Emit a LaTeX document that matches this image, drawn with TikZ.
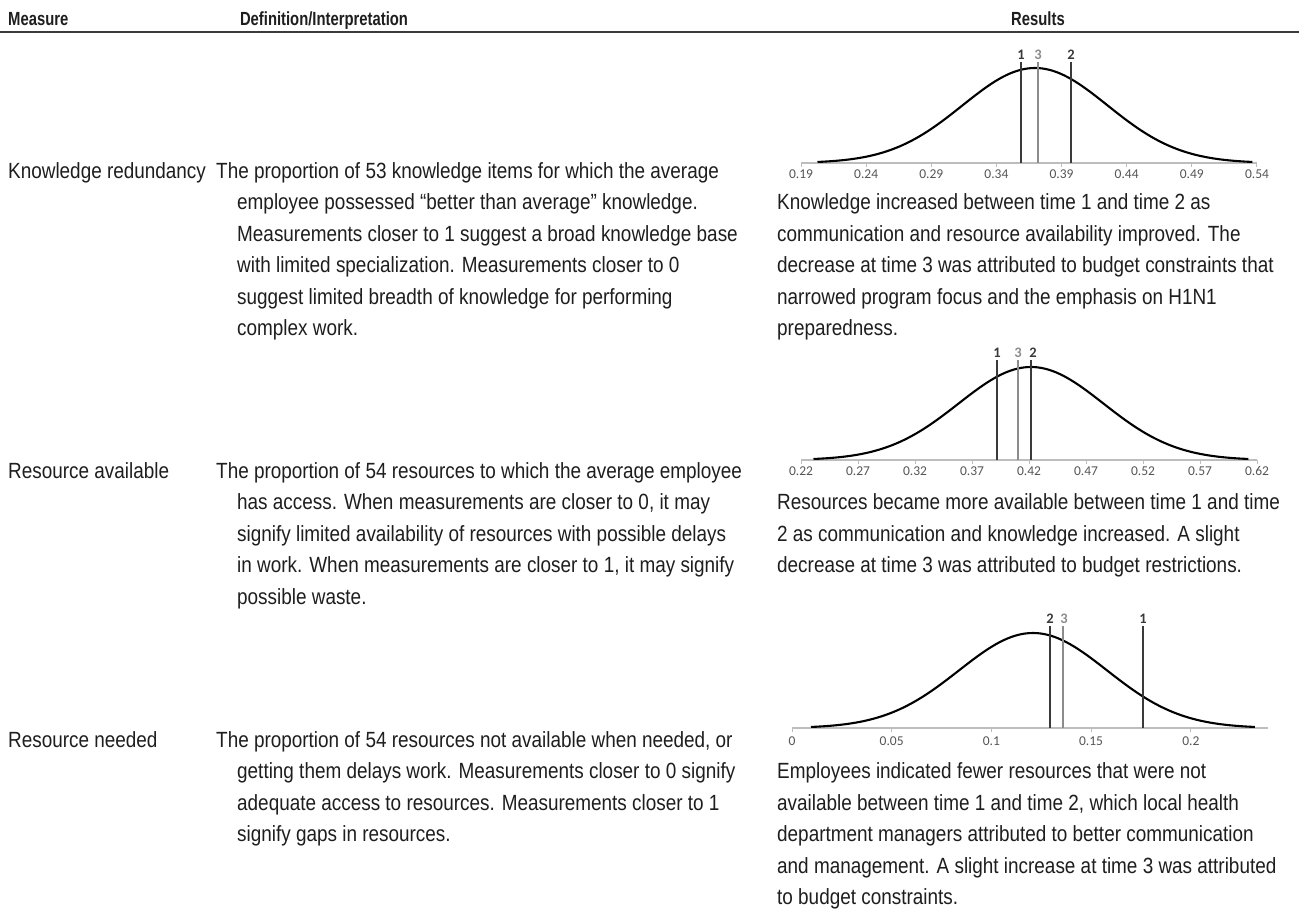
\documentclass[tikz,border=0pt]{standalone}
\usepackage{fontspec}
\setmainfont[FakeStretch=0.86]{Liberation Sans}
\newfontfamily\hdrfont[FakeStretch=0.78]{Liberation Sans}
\newfontfamily\axisfont{Carlito}
\definecolor{textc}{HTML}{1E1E1E}
\definecolor{axc}{HTML}{555555}
\definecolor{axl}{HTML}{BDBDBD}
\definecolor{vdark}{HTML}{3A3A3A}
\definecolor{vlight}{HTML}{8C8C8C}
\tikzset{
  txt/.style={font=\fontsize{22}{26}\selectfont, inner sep=0pt, text=textc, anchor=base west},
  hdr/.style={font=\hdrfont\fontsize{19}{22}\selectfont\bfseries, inner sep=0pt, text=textc, anchor=base},
  axlab/.style={font=\axisfont\fontsize{13.5}{16}\selectfont, inner sep=0pt, text=axc, anchor=base},
  numlab/.style={font=\axisfont\bfseries\fontsize{14.5}{16}\selectfont, inner sep=0pt, anchor=base},
  curve/.style={draw=black, line width=2.1pt},
  axisline/.style={draw=axl, line width=1.2pt},
  tick/.style={draw=axl, line width=1pt},
  vline/.style={draw=vdark, line width=2pt},
  vlinelight/.style={draw=vlight, line width=1.8pt},
  rule/.style={draw=vdark, line width=2pt}
}
\begin{document}
\begin{tikzpicture}[x=1pt,y=-1pt]
\useasboundingbox[fill=white] (0,0) rectangle (1299,914);

% header
\node[hdr, anchor=base west] (hM) at (8,25) {Measure};
\node[hdr] (hD) at (324,25) {Definition/Interpretation};
\node[hdr] (hR) at (1038,25) {Results};
\coordinate (rl) at (0,32);
\coordinate (rr) at (1299,32);
\draw[rule] (rl) -- (rr);

% ---------- left column ----------
\node[txt] (m1) at (8,178) {Knowledge redundancy};
\node[txt] (d1a) at (216,178) {The proportion of 53 knowledge items for which the average};
\node[txt] (d1b) at (237,209.5) {employee possessed “better than average” knowledge.};
\node[txt] (d1c) at (237,241) {Measurements closer to 1 suggest a broad knowledge base};
\node[txt] (d1d) at (237,272.5) {with limited specialization. Measurements closer to 0};
\node[txt] (d1e) at (237,304) {suggest limited breadth of knowledge for performing};
\node[txt] (d1f) at (237,335.5) {complex work.};

\node[txt] (m2) at (8,478) {Resource available};
\node[txt] (d2a) at (216,478) {The proportion of 54 resources to which the average employee};
\node[txt] (d2b) at (237,509.5) {has access. When measurements are closer to 0, it may};
\node[txt] (d2c) at (237,541) {signify limited availability of resources with possible delays};
\node[txt] (d2d) at (237,572.5) {in work. When measurements are closer to 1, it may signify};
\node[txt] (d2e) at (237,604) {possible waste.};

\node[txt] (m3) at (8,747) {Resource needed};
\node[txt] (d3a) at (216,747) {The proportion of 54 resources not available when needed, or};
\node[txt] (d3b) at (237,778.5) {getting them delays work. Measurements closer to 0 signify};
\node[txt] (d3c) at (237,810) {adequate access to resources. Measurements closer to 1};
\node[txt] (d3d) at (237,841.5) {signify gaps in resources.};

% ---------- right column text ----------
\node[txt] (r1a) at (777,209.5) {Knowledge increased between time 1 and time 2 as};
\node[txt] (r1b) at (777,241) {communication and resource availability improved. The};
\node[txt] (r1c) at (777,272.5) {decrease at time 3 was attributed to budget constraints that};
\node[txt] (r1d) at (777,304) {narrowed program focus and the emphasis on H1N1};
\node[txt] (r1e) at (777,335.5) {preparedness.};

\node[txt] (r2a) at (777,509.5) {Resources became more available between time 1 and time};
\node[txt] (r2b) at (777,541) {2 as communication and knowledge increased. A slight};
\node[txt] (r2c) at (777,572.5) {decrease at time 3 was attributed to budget restrictions.};

\node[txt] (r3a) at (777,778.5) {Employees indicated fewer resources that were not};
\node[txt] (r3b) at (777,810) {available between time 1 and time 2, which local health};
\node[txt] (r3c) at (777,841.5) {department managers attributed to better communication};
\node[txt] (r3d) at (777,873) {and management. A slight increase at time 3 was attributed};
\node[txt] (r3e) at (777,904.5) {to budget constraints.};

% ---------- curve 1 ----------
\coordinate (a1l) at (801,163);
\coordinate (a1r) at (1257,163);
\draw[axisline] (a1l) -- (a1r);
\foreach \k/\lab in {0/0.19,1/0.24,2/0.29,3/0.34,4/0.39,5/0.44,6/0.49,7/0.54}{
  \draw[tick] ({801+65.14*\k},163) -- ({801+65.14*\k},167);
  \node[axlab] (c1t\k) at ({801+65.14*\k},178) {\lab};
}
\draw[curve] plot[domain=-3:3, samples=121, smooth] ({1035+72.5*\x},{163-95*exp(-\x*\x/2)});
\coordinate (v1a) at (1021,62); \coordinate (v1ab) at (1021,163);
\coordinate (v1c) at (1038,62); \coordinate (v1cb) at (1038,163);
\coordinate (v1b) at (1071,62); \coordinate (v1bb) at (1071,163);
\draw[vline] (v1a) -- (v1ab);
\draw[vlinelight] (v1c) -- (v1cb);
\draw[vline] (v1b) -- (v1bb);
\node[numlab, text=vdark] (n11) at (1021,59) {1};
\node[numlab, text=vlight] (n13) at (1038,59) {3};
\node[numlab, text=vdark] (n12) at (1071,59) {2};

% ---------- curve 2 ----------
\coordinate (a2l) at (801,460);
\coordinate (a2r) at (1257,460);
\draw[axisline] (a2l) -- (a2r);
\foreach \k/\lab in {0/0.22,1/0.27,2/0.32,3/0.37,4/0.42,5/0.47,6/0.52,7/0.57,8/0.62}{
  \draw[tick] ({801+57*\k},460) -- ({801+57*\k},464);
  \node[axlab] (c2t\k) at ({801+57*\k},475) {\lab};
}
\draw[curve] plot[domain=-3:3, samples=121, smooth] ({1031+72.5*\x},{460-93*exp(-\x*\x/2)});
\coordinate (v2a) at (997,360); \coordinate (v2ab) at (997,460);
\coordinate (v2c) at (1018,360); \coordinate (v2cb) at (1018,460);
\coordinate (v2b) at (1031,360); \coordinate (v2bb) at (1031,460);
\draw[vline] (v2a) -- (v2ab);
\draw[vlinelight] (v2c) -- (v2cb);
\draw[vline] (v2b) -- (v2bb);
\node[numlab, text=vdark] (n21) at (997,357) {1};
\node[numlab, text=vlight] (n23) at (1018,357) {3};
\node[numlab, text=vdark] (n22) at (1033,357) {2};

% ---------- curve 3 ----------
\coordinate (a3l) at (792,728);
\coordinate (a3r) at (1268,728);
\draw[axisline] (a3l) -- (a3r);
\foreach \k/\lab in {0/0,1/0.05,2/0.1,3/0.15,4/0.2}{
  \draw[tick] ({792+99.7*\k},728) -- ({792+99.7*\k},732);
  \node[axlab] (c3t\k) at ({792+99.7*\k},745) {\lab};
}
\draw[curve] plot[domain=-3:3, samples=121, smooth] ({1033+74*\x},{728-95*exp(-\x*\x/2)});
\coordinate (v3b) at (1050,626); \coordinate (v3bb) at (1050,728);
\coordinate (v3c) at (1063,626); \coordinate (v3cb) at (1063,728);
\coordinate (v3a) at (1143,626); \coordinate (v3ab) at (1143,728);
\draw[vline] (v3b) -- (v3bb);
\draw[vlinelight] (v3c) -- (v3cb);
\draw[vline] (v3a) -- (v3ab);
\node[numlab, text=vdark] (n32) at (1050,623) {2};
\node[numlab, text=vlight] (n33) at (1064,623) {3};
\node[numlab, text=vdark] (n31) at (1143,623) {1};
\end{tikzpicture}
\end{document}
